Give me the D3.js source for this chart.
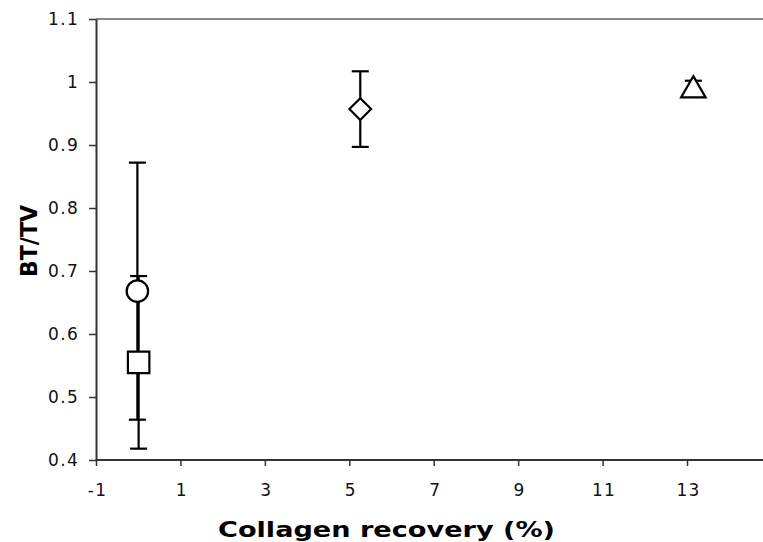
<!DOCTYPE html>
<html><head><meta charset="utf-8">
<script src="https://cdn.jsdelivr.net/npm/d3@7/dist/d3.min.js"></script>
<style>body{margin:0;background:#fff}svg{display:block}</style>
</head><body>
<svg id="c" width="763" height="542"></svg>
<script>
const groups = ["circle","square","diamond","triangle"];
const xValues = [-0.02, 0.01, 5.26, 13.15];
const yValues = [0.668, 0.555, 0.957, 0.99];
const yErrors = [0.204, 0.137, 0.06, 0.012];
const xTicks = [-1,1,3,5,7,9,11,13];
const xTickLabels = ["-1","1","3","5","7","9","11","13"];
const yTicks = [0.4,0.5,0.6,0.7,0.8,0.9,1,1.1];
const yTickLabels = ["0.4","0.5","0.6","0.7","0.8","0.9","1","1.1"];

const svg = d3.select("#c");
const x = d3.scaleLinear().domain([-1, 14.8]).range([96, 763]);
const y = d3.scaleLinear().domain([0.4, 1.1]).range([460, 19]);
const font = "Verdana, 'DejaVu Sans', sans-serif";

// top border
svg.append("line").attr("x1", 96).attr("x2", 763).attr("y1", y(1.1)).attr("y2", y(1.1))
  .attr("stroke", "#888").attr("stroke-width", 2);

const xAxis = svg.append("g").attr("transform", `translate(0,${y(0.4)})`)
  .call(d3.axisBottom(x).tickValues(xTicks).tickFormat((d,i)=>xTickLabels[i]).tickSize(6).tickPadding(18).tickSizeOuter(0));
const yAxis = svg.append("g").attr("transform", `translate(${x(-1)},0)`)
  .call(d3.axisLeft(y).tickValues(yTicks).tickFormat((d,i)=>yTickLabels[i]).tickSize(7).tickPadding(10).tickSizeOuter(0));
[xAxis, yAxis].forEach(a => {
  a.select(".domain").attr("stroke", "#333").attr("stroke-width", 2);
  a.selectAll(".tick line").attr("stroke", "#333").attr("stroke-width", 1.5);
  a.selectAll("text").attr("font-family", font).attr("font-size", 17).attr("fill", "#111")
    .attr("letter-spacing", 1.3);
});
xAxis.selectAll("text").attr("dx", 1);
xAxis.select(".domain").attr("d", `M96,0H763`);

svg.append("text").attr("x", 218).attr("y", 537)
  .attr("font-family", font).attr("font-weight", "bold").attr("font-size", 22)
  .attr("textLength", 337).attr("lengthAdjust", "spacingAndGlyphs")
  .text("Collagen recovery (%)");
svg.append("text").attr("transform", "translate(37,241) rotate(-90)").attr("text-anchor", "middle")
  .attr("font-family", font).attr("font-weight", "bold").attr("font-size", 23)
  .attr("textLength", 72).attr("lengthAdjust", "spacingAndGlyphs")
  .text("BT/TV");

const data = groups.map((g,i)=>({g, x:xValues[i], y:yValues[i], e:yErrors[i]}));
const cap = 8.5;
const eb = svg.append("g").attr("stroke", "#000").attr("stroke-width", 2.2);
data.forEach(d => {
  const cx = x(d.x);
  eb.append("line").attr("x1", cx).attr("x2", cx).attr("y1", y(d.y - d.e)).attr("y2", y(d.y + d.e));
  eb.append("line").attr("x1", cx-cap).attr("x2", cx+cap).attr("y1", y(d.y + d.e)).attr("y2", y(d.y + d.e));
  eb.append("line").attr("x1", cx-cap).attr("x2", cx+cap).attr("y1", y(d.y - d.e)).attr("y2", y(d.y - d.e));
});

const symMap = {circle: d3.symbolCircle, square: d3.symbolSquare, diamond: d3.symbolDiamond2, triangle: d3.symbolTriangle};
const sizeMap = {circle: 360, square: 460, diamond: 300, triangle: 260};
svg.append("g").selectAll("path").data(data).join("path")
  .attr("transform", d => `translate(${x(d.x)},${y(d.y) + (d.g==="triangle"?2:0)})`)
  .attr("d", d => d3.symbol().type(symMap[d.g]).size(sizeMap[d.g])())
  .attr("fill", "#fff").attr("stroke", "#000").attr("stroke-width", 2.2);
</script>
</body></html>
